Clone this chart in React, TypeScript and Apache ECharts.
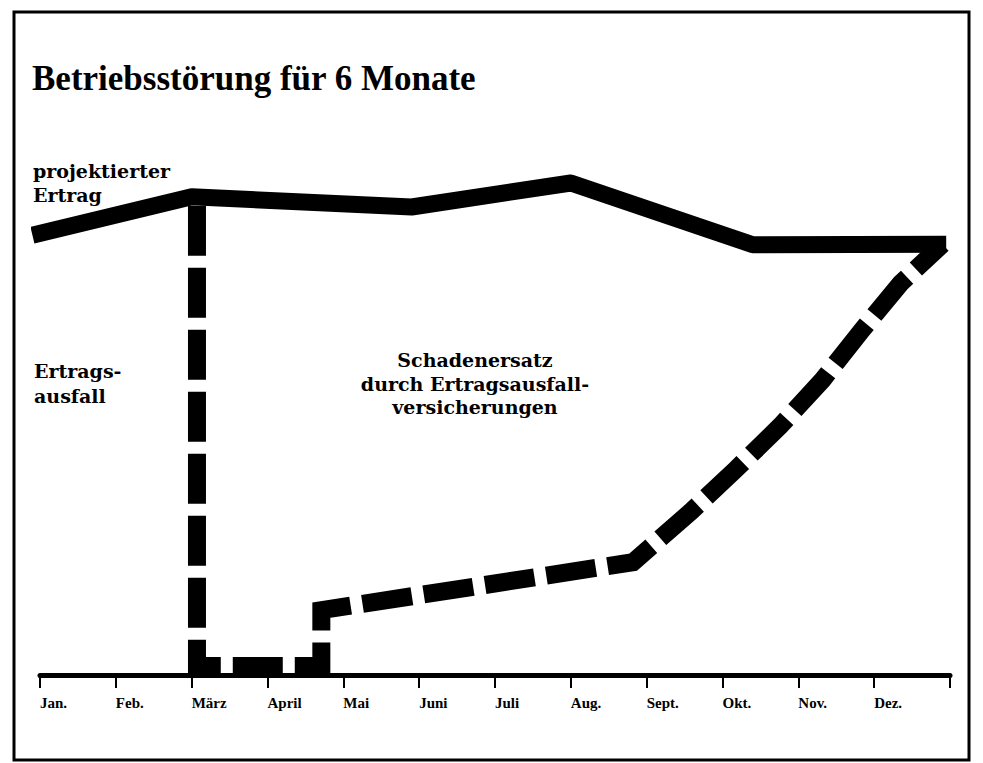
import React, { useEffect, useRef } from "react";
import * as echarts from "echarts";

// Month labels along the time axis
const months = ["Jan.", "Feb.", "März", "April", "Mai", "Juni", "Juli", "Aug.", "Sept.", "Okt.", "Nov.", "Dez."];

// projektierter Ertrag (x = month position, y = relative level)
const projectedX = [-0.1, 2.0, 4.9, 7.0, 9.4, 11.95];
const projectedY = [73.3, 79.7, 78.0, 82.0, 71.7, 71.8];

// tatsächlicher Ertrag während/nach der Betriebsstörung (dashed)
const actualX = [2.07, 2.07, 3.71, 3.71, 7.82, 8.58, 9.17, 9.76, 10.32, 10.84, 11.35, 11.9];
const actualY = [78.2, 1.5, 1.5, 10.8, 18.8, 27.2, 34.2, 41.5, 49.2, 57.5, 65.3, 71.8];

const titleText = "Betriebsstörung für 6 Monate";
const labelProjected = ["projektierter", "Ertrag"];
const labelLoss = ["Ertrags-", "ausfall"];
const labelComp = ["Schadenersatz", "durch Ertragsausfall-", "versicherungen"];

const serifTitle = "'Liberation Serif', 'DejaVu Serif', serif";
const serifLabel = "'DejaVu Serif', 'Liberation Serif', serif";

export default function App() {
  const ref = useRef<HTMLDivElement>(null);

  useEffect(() => {
    document.body.style.margin = "0";
    if (!ref.current) return;
    const chart = echarts.init(ref.current, undefined, { renderer: "svg" });

    const projectedData = projectedX.map((x, i) => [x, projectedY[i]]);
    const actualData = actualX.map((x, i) => [x, actualY[i]]);

    const textEl = (text: string, x: number, y: number, size: number, family: string, align: string = "left") => ({
      type: "text",
      x,
      y,
      z: 100,
      style: {
        text,
        font: `bold ${size}px ${family}`,
        fill: "#000",
        textAlign: align,
        textVerticalAlign: "middle",
      },
    });

    const graphics: any[] = [
      {
        type: "rect",
        shape: { x: 14, y: 12, width: 955, height: 748 },
        style: { fill: "none", stroke: "#000", lineWidth: 3 },
        z: 100,
      },
      textEl(titleText, 32, 78, 35, serifTitle),
      textEl(labelProjected[0], 33, 171, 19, serifLabel),
      textEl(labelProjected[1], 33, 195, 19, serifLabel),
      textEl(labelLoss[0], 34, 371, 19, serifLabel),
      textEl(labelLoss[1], 34, 396, 19, serifLabel),
      textEl(labelComp[0], 475, 360, 19, serifLabel, "center"),
      textEl(labelComp[1], 475, 384, 19, serifLabel, "center"),
      textEl(labelComp[2], 475, 407, 19, serifLabel, "center"),
    ];

    chart.setOption({
      animation: false,
      backgroundColor: "#fff",
      grid: { left: 40, right: 33, top: 75, bottom: 88, outerBoundsMode: "none" },
      xAxis: {
        type: "value",
        min: 0,
        max: 12,
        interval: 1,
        splitLine: { show: false },
        axisLine: { show: true, lineStyle: { color: "#000", width: 5 } },
        axisTick: { show: true, inside: false, length: 13, lineStyle: { color: "#000", width: 2 } },
        axisLabel: {
          show: true,
          margin: 20,
          align: "left",
          color: "#000",
          fontFamily: serifTitle,
          fontWeight: "bold",
          fontSize: 15,
          formatter: (v: number) => months[Math.round(v)] ?? "",
        },
      },
      yAxis: {
        type: "value",
        min: 0,
        max: 100,
        show: false,
        splitLine: { show: false },
      },
      graphic: graphics,
      series: [
        {
          type: "line",
          data: actualData,
          symbol: "none",
          clip: false,
          z: 2,
          lineStyle: { color: "#000", width: 18, type: [50, 12], cap: "butt", join: "miter" },
        },
        {
          type: "line",
          data: projectedData,
          symbol: "none",
          clip: false,
          z: 3,
          lineStyle: { color: "#000", width: 17, cap: "butt", join: "round" },
        },
      ],
    });

    return () => chart.dispose();
  }, []);

  return <div ref={ref} style={{ width: 983, height: 763 }} />;
}
